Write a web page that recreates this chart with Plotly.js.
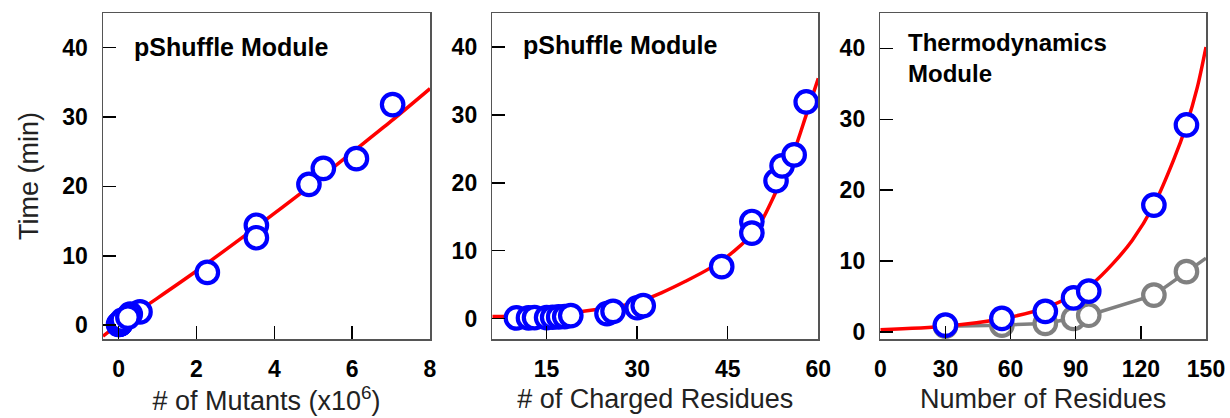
<!DOCTYPE html>
<html>
<head>
<meta charset="utf-8">
<script src="https://cdn.plot.ly/plotly-3.0.1.min.js"></script>
<style>html,body{margin:0;padding:0;background:#fff;}#chart{width:1230px;height:418px;}</style>
</head>
<body>
<div id="chart"></div>
<script>
// Panel 1: time vs number of mutants (x10^6)
const mutantsX = [0.00, 0.01, 0.02, 0.03, 0.04, 0.05, 0.06, 0.07, 0.10, 0.55, 0.30, 0.24, 2.28, 3.54, 3.54, 4.89, 5.26, 6.11, 7.04];
const mutantsTime = [0.1, 0.1, 0.15, 0.15, 0.2, 0.25, 0.3, 0.45, 0.74, 1.9, 1.6, 1.15, 7.6, 14.4, 12.6, 20.3, 22.6, 24.0, 31.8];
const mutantsFitX = [-0.4, 0, 1, 2, 3, 4, 5, 6, 7, 8];
const mutantsFitY = [-1.6, 0.1, 3.9, 7.8, 11.9, 16.1, 20.4, 24.9, 29.4, 34.1];

// Panel 2: time vs number of charged residues
const chargedX = [10, 12, 13, 15, 16, 17, 18, 19, 25, 26, 30, 31, 44, 49, 49, 53, 54, 56, 58];
const chargedTime = [0.1, 0.1, 0.15, 0.15, 0.2, 0.25, 0.3, 0.45, 0.74, 1.07, 1.6, 1.9, 7.65, 14.3, 12.6, 20.3, 22.5, 24.1, 31.9];
const chargedFitX = [6, 12, 18, 22, 26, 30, 34, 38, 42, 46, 50, 53, 56, 58, 60];
const chargedFitY = [0.3, 0.45, 0.8, 1.2, 1.7, 2.4, 3.8, 5.5, 7.4, 9.9, 13.5, 18.7, 24.7, 30.0, 35.4];

// Panel 3: time vs number of residues (thermodynamics module)
const residuesX = [30, 56, 76, 89, 96, 126, 141];
const residuesTime = [0.95, 1.9, 2.9, 4.8, 5.75, 17.9, 29.2];
const residuesGrayTime = [0.8, 0.95, 1.2, 1.9, 2.35, 5.2, 8.5];
const residuesGrayLineX = [30, 56, 76, 89, 96, 126, 141, 150];
const residuesGrayLineY = [0.8, 0.95, 1.2, 1.9, 2.35, 5.2, 8.5, 10.4];
const residuesFitX = [0, 30, 56, 76, 89, 98, 107, 116, 126, 135, 141, 146, 150];
const residuesFitY = [0.3, 0.8, 1.85, 3.4, 5.2, 6.9, 9.6, 12.9, 17.9, 24.2, 29.2, 34.5, 40.2];

const W = 1230, H = 418;
const RED = '#ff0000', BLUE = '#0000ff', GRAY = '#808080';
const FONT = 'Liberation Sans, Arial, Helvetica, sans-serif';

function fitTrace(x, y, xa, ya, color) {
  return {x: x, y: y, xaxis: xa, yaxis: ya, type: 'scatter', mode: 'lines',
    line: {color: color, width: 3.5, shape: 'spline', smoothing: 0.8}, hoverinfo: 'skip', showlegend: false};
}
function markerTrace(x, y, xa, ya, color) {
  return {x: x, y: y, xaxis: xa, yaxis: ya, type: 'scatter', mode: 'markers',
    marker: {symbol: 'circle', size: 21.5, color: '#ffffff', line: {color: color, width: 4.2}},
    cliponaxis: false, showlegend: false};
}

const data = [
  fitTrace(mutantsFitX, mutantsFitY, 'x', 'y', RED),
  markerTrace(mutantsX, mutantsTime, 'x', 'y', BLUE),
  fitTrace(chargedFitX, chargedFitY, 'x2', 'y2', RED),
  markerTrace(chargedX, chargedTime, 'x2', 'y2', BLUE),
  {x: residuesGrayLineX, y: residuesGrayLineY, xaxis: 'x3', yaxis: 'y3', type: 'scatter', mode: 'lines',
   line: {color: GRAY, width: 3.5}, showlegend: false, hoverinfo: 'skip'},
  markerTrace(residuesX, residuesGrayTime, 'x3', 'y3', GRAY),
  fitTrace(residuesFitX, residuesFitY, 'x3', 'y3', RED),
  markerTrace(residuesX, residuesTime, 'x3', 'y3', BLUE)
];

const ydom = [1 - 339 / H, 1 - 13 / H];
function xAxis(dom, range, dtick, title, anchor) {
  return {domain: dom, range: range, dtick: dtick, tick0: 0, anchor: anchor,
    showgrid: false, zeroline: false, showline: true, mirror: true,
    linecolor: '#555555', linewidth: 1.5,
    ticks: 'inside', ticklen: 13, tickwidth: 1.5, tickcolor: '#000000',
    ticklabelstandoff: 9,
    tickfont: {family: FONT, size: 23, color: '#000000', weight: 'bold'},
    title: {text: title, font: {family: FONT, size: 27, color: '#222222'}, standoff: 8}};
}
function yAxis(range, anchor, title) {
  const ax = {domain: ydom, range: range, dtick: 10, tick0: 0, anchor: anchor,
    showgrid: false, zeroline: false, showline: true, mirror: true,
    linecolor: '#555555', linewidth: 1.5,
    ticks: 'inside', ticklen: 13, tickwidth: 1.5, tickcolor: '#000000',
    ticklabelstandoff: 9,
    tickfont: {family: FONT, size: 23, color: '#000000', weight: 'bold'}};
  if (title) ax.title = {text: title, font: {family: FONT, size: 27, color: '#222222'}, standoff: 16};
  return ax;
}

const layout = {
  width: W, height: H,
  margin: {l: 0, r: 0, t: 0, b: 0},
  paper_bgcolor: '#ffffff', plot_bgcolor: '#ffffff',
  showlegend: false,
  xaxis: xAxis([103 / W, 430 / W], [-0.4, 8], 2, '# of Mutants (x10<sup>6</sup>)', 'y'),
  yaxis: yAxis([-2, 45], 'x', 'Time (min)'),
  xaxis2: xAxis([492.3 / W, 818.3 / W], [6, 60], 15, '# of Charged Residues', 'y2'),
  yaxis2: yAxis([-3, 45], 'x2'),
  xaxis3: xAxis([880.3 / W, 1206 / W], [0, 150], 30, 'Number of Residues', 'y3'),
  yaxis3: yAxis([-1, 45], 'x3'),
  annotations: [
    {text: 'pShuffle Module', xref: 'paper', yref: 'paper', x: 132 / W, y: 1 - 47 / H,
     xanchor: 'left', yanchor: 'middle', showarrow: false, align: 'left',
     font: {family: FONT, size: 25, color: '#000000', weight: 'bold'}},
    {text: 'pShuffle Module', xref: 'paper', yref: 'paper', x: 520.7 / W, y: 1 - 45 / H,
     xanchor: 'left', yanchor: 'middle', showarrow: false, align: 'left',
     font: {family: FONT, size: 25, color: '#000000', weight: 'bold'}},
    {text: 'Thermodynamics<br>Module', xref: 'paper', yref: 'paper', x: 906.3 / W, y: 1 - 58.5 / H,
     xanchor: 'left', yanchor: 'middle', showarrow: false, align: 'left',
     font: {family: FONT, size: 24, color: '#000000', weight: 'bold'}}
  ]
};

Plotly.newPlot('chart', data, layout, {displayModeBar: false, staticPlot: true});
</script>
</body>
</html>
